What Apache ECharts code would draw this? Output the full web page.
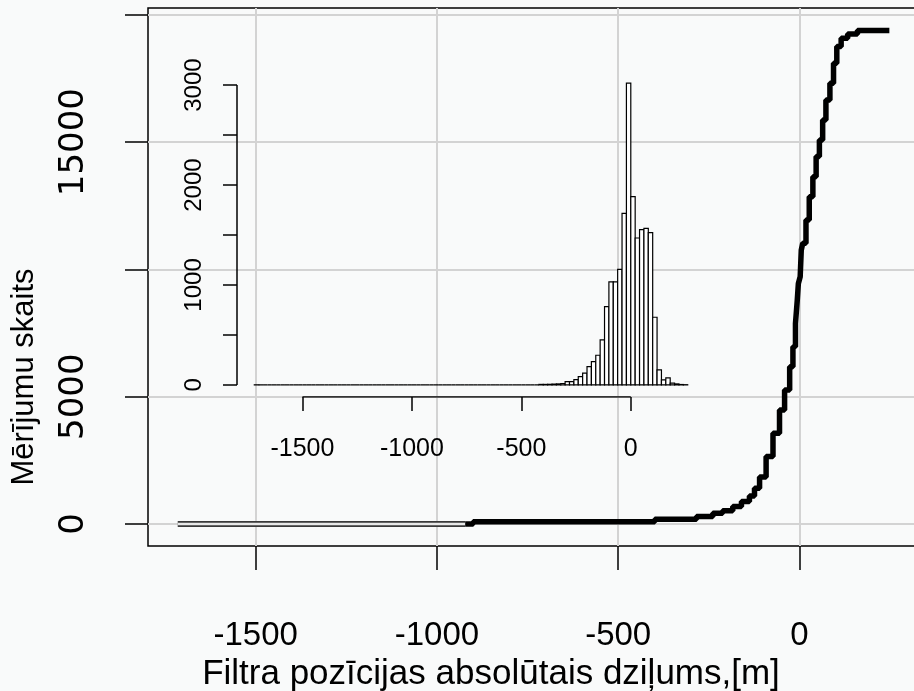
<!DOCTYPE html>
<html><head><meta charset="utf-8">
<script src="https://cdn.jsdelivr.net/npm/echarts@6/dist/echarts.min.js"></script>
<style>html,body{margin:0;padding:0;background:#f9fafa}#c{width:914px;height:691px}</style>
</head><body><div id="c"></div><script>
// ---- main plot: cumulative number of measurements vs depth ----
const tailDepth = [-1715, -922];
const tailCount = [0, 0];
const depth = [-922, -900, -399, -284, -239, -212, -184, -160, -138, -124, -110, -92, -73, -55, -41, -27, -18, -11, -6, -3, 2, 5, 9, 18, 27, 37, 46, 55, 64, 73, 84, 94, 103, 115, 133, 160, 248];
const cumCount = [0, 90, 185, 290, 420, 520, 690, 880, 1100, 1400, 1850, 2650, 3560, 4480, 5260, 6180, 6960, 7880, 8800, 9450, 9710, 10760, 11025, 11940, 12855, 13640, 14430, 15080, 15870, 16650, 17310, 18100, 18750, 19080, 19250, 19380, 19400];
const mainXTicks = [-1500, -1000, -500, 0];
const mainYTicks = [0, 5000, 10000, 15000, 20000];
const mainYLabels = [0, 5000, 15000];

// ---- inset histogram ----
const histStart = -1720;
const histBin = 20;
const histCounts = [1,
  0,0,0,0,0,0,0,0,0,0,0,0,0,0,0,0,
  0,0,0,0,0,0,0,0,0,0,0,0,0,0,0,0,
  0,0,0,0,0,0,0,0,0,0,0,0,0,0,0,0,
  0,0,0,0,0,0,0,0,0,0,0,0,0,0,0,0,
  5,5,6,8,10,14,33,33,53,83,117,183,233,297,450,783,1030,1030,1157,
  1717,3020,1884,1470,1554,1567,1524,677,150,50,70,17,10,4,2];
const insetXTicks = [-1500, -1000, -500, 0];
const insetYTicks = [0, 500, 1000, 1500, 2000, 2500, 3000];
const insetYLabels = [0, 1000, 2000, 3000];

const histData = histCounts.map((c, i) => [histStart + i * histBin, histStart + (i + 1) * histBin, c]);
const mainData = depth.map((d, i) => [d, cumCount[i]]);
const tailData = tailDepth.map((d, i) => [d, tailCount[i]]);

const insetXMin = -1799, insetXMax = 339, insetYMin = -121, insetYMax = 3141;
const BG = '#f9fafa';
const FONT = "'Liberation Sans', Arial, sans-serif";
const plain = v => String(v);

const chart = echarts.init(document.getElementById('c'));
chart.setOption({
  backgroundColor: BG,
  animation: false,
  grid: [
    {left: 148, top: 8, width: 770, height: 538, show: true, borderColor: '#000', borderWidth: 1.5,
     backgroundColor: 'transparent', containLabel: false, outerBoundsMode: 'none'},
    {left: 237, top: 71, width: 468, height: 326, show: false, containLabel: false, outerBoundsMode: 'none'}
  ],
  xAxis: [
    {type: 'value', gridIndex: 0, min: -1797, max: 327, position: 'bottom',
     name: 'Filtra pozīcijas absolūtais dziļums,[m]', nameLocation: 'middle', nameGap: 111,
     nameTextStyle: {fontFamily: FONT, fontSize: 35, color: '#000', padding: [0, 84, 0, 0]},
     axisLine: {show: false, onZero: false},
     axisTick: {show: true, customValues: mainXTicks, length: 24, lineStyle: {color: '#000', width: 1.5}},
     axisLabel: {customValues: mainXTicks, formatter: plain, fontFamily: FONT, fontSize: 33, color: '#000', margin: 73},
     splitLine: {show: true, lineStyle: {color: '#d3d3d3', width: 2}}},
    {type: 'value', gridIndex: 1, min: insetXMin, max: insetXMax, position: 'bottom',
     axisLine: {show: false, onZero: false},
     axisTick: {show: true, customValues: insetXTicks, length: 14, lineStyle: {color: '#000', width: 1.5}},
     axisLabel: {customValues: insetXTicks, formatter: plain, fontFamily: FONT, fontSize: 25, color: '#000', margin: 40},
     splitLine: {show: false}}
  ],
  yAxis: [
    {type: 'value', gridIndex: 0, min: -864, max: 20267, position: 'left',
     name: 'Mērījumu skaits', nameLocation: 'middle', nameGap: 108, nameRotate: 90,
     nameTextStyle: {fontFamily: FONT, fontSize: 31, color: '#000', padding: [0, 200, 0, 0]},
     axisLine: {show: false, onZero: false},
     axisTick: {show: true, customValues: mainYTicks, length: 23, lineStyle: {color: '#000', width: 1.5}},
     axisLabel: {customValues: mainYLabels, formatter: plain, rotate: 90, fontFamily: "'DejaVu Sans', sans-serif", fontSize: 34, color: '#000', margin: 57},
     splitLine: {show: true, lineStyle: {color: '#d3d3d3', width: 2}}},
    {type: 'value', gridIndex: 1, min: insetYMin, max: insetYMax, position: 'left',
     axisLine: {show: false, onZero: false},
     axisTick: {show: true, customValues: insetYTicks, length: 14, lineStyle: {color: '#000', width: 1.5}},
     axisLabel: {customValues: insetYLabels, formatter: plain, rotate: 90, fontFamily: FONT, fontSize: 24, color: '#000', margin: 31},
     splitLine: {show: false}}
  ],
  series: [
    {type: 'line', xAxisIndex: 0, yAxisIndex: 0, data: tailData, symbol: 'none', silent: true,
     lineStyle: {color: '#3a3a3a', width: 6}},
    {type: 'line', xAxisIndex: 0, yAxisIndex: 0, data: tailData, symbol: 'none', silent: true,
     lineStyle: {color: '#e8e8e8', width: 2.5}},
    {type: 'line', xAxisIndex: 0, yAxisIndex: 0, data: mainData, symbol: 'none', step: 'end', silent: true,
     lineStyle: {color: '#000', width: 5.5}},
    {type: 'custom', xAxisIndex: 1, yAxisIndex: 1, data: histData, silent: true,
     renderItem: function (params, api) {
       const p0 = api.coord([api.value(0), 0]);
       const p1 = api.coord([api.value(1), api.value(2)]);
       return {type: 'rect', shape: {x: p0[0], y: p1[1], width: p1[0] - p0[0], height: p0[1] - p1[1]},
               style: {fill: '#ffffff', stroke: '#000', lineWidth: 1.2}};
     }},
    {type: 'line', xAxisIndex: 1, yAxisIndex: 1, symbol: 'none', silent: true,
     data: [[insetXTicks[0], insetYMin], [insetXTicks[insetXTicks.length - 1], insetYMin]],
     lineStyle: {color: '#000', width: 1.5}},
    {type: 'line', xAxisIndex: 1, yAxisIndex: 1, symbol: 'none', silent: true,
     data: [[insetXMin, insetYTicks[0]], [insetXMin, insetYTicks[insetYTicks.length - 1]]],
     lineStyle: {color: '#000', width: 1.5}}
  ]
});
</script></body></html>
